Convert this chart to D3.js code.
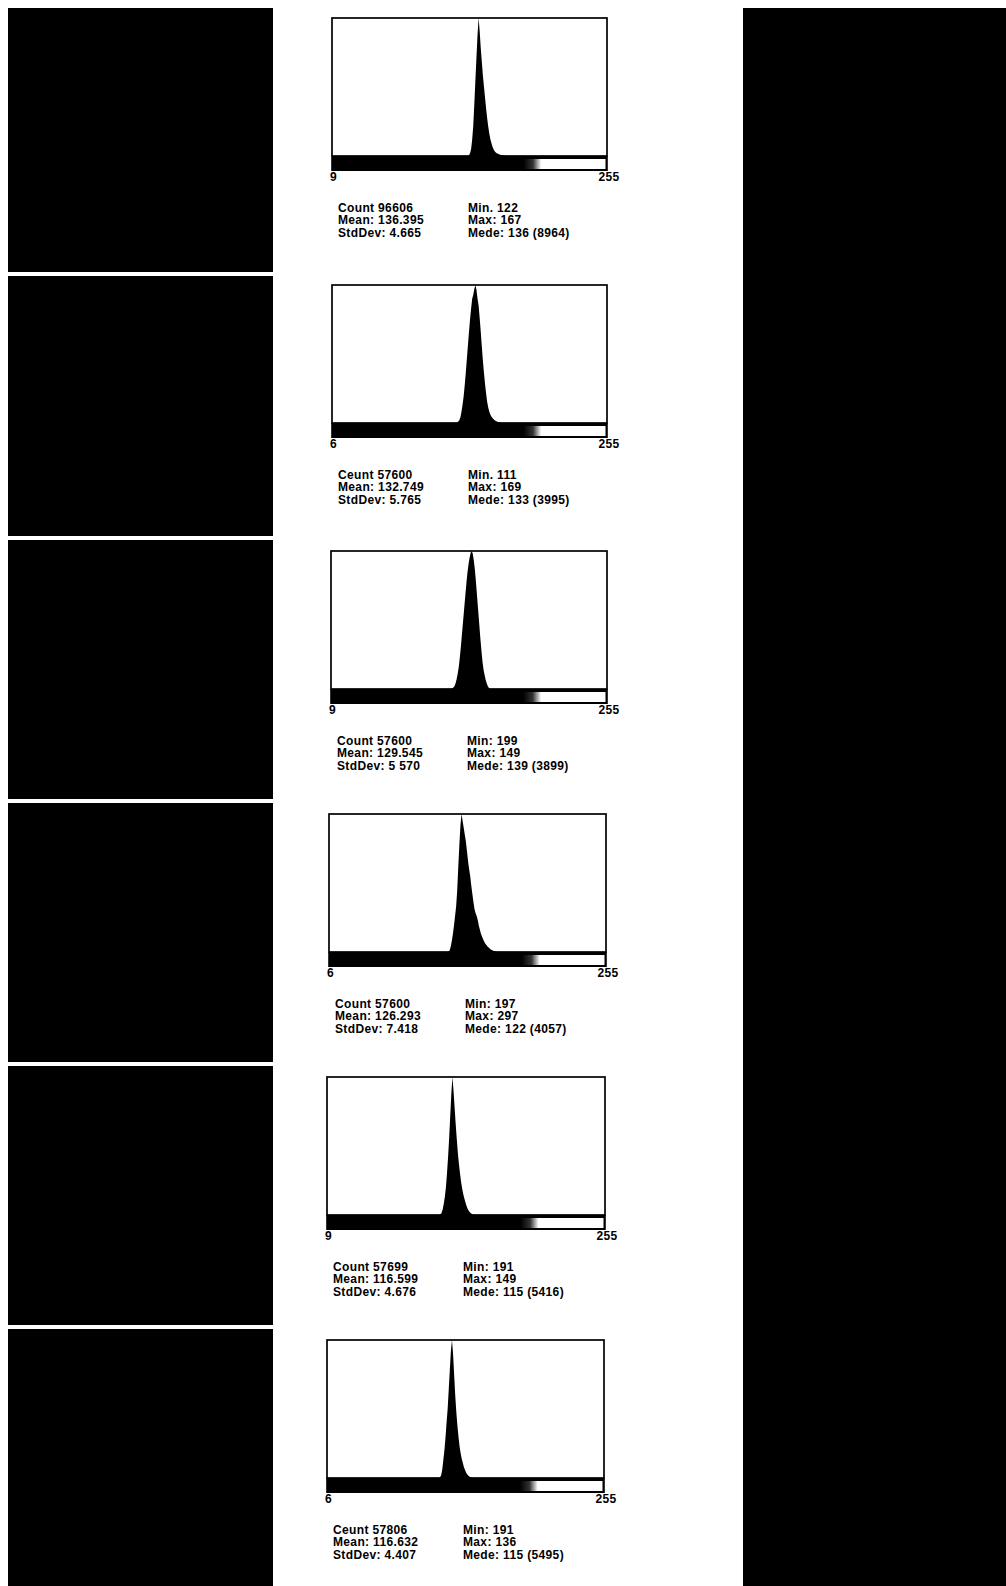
<!DOCTYPE html>
<html>
<head>
<meta charset="utf-8">
<script src="https://cdn.jsdelivr.net/npm/d3@7"></script>
<style>
  html, body { margin: 0; padding: 0; background: #fff; }
  svg { display: block; }
</style>
</head>
<body>
<script>
// ---- Histogram data: grey-level counts per bin (0..255), one list per sample ----
const startBins = [127, 116, 112, 110, 104, 104];

const counts1 = [45, 179, 448, 1076, 1972, 3406, 4930, 6454, 7888, 8964, 8068, 6992, 6096, 5199, 4482,
  3765, 3048, 2420, 1882, 1434, 1076, 807, 583, 430, 314, 233, 179, 143, 108, 81, 63, 45, 36, 27];
const counts2 = [20, 40, 80, 160, 320, 519, 759, 1079, 1438, 1838, 2237, 2637, 2996, 3316, 3596, 3715,
  3880, 3995, 3850, 3600, 3396, 3036, 2637, 2197, 1798, 1438, 1119, 839, 599, 439, 320, 240, 180, 140,
  108, 80, 60, 44, 32, 24, 16];
const counts3 = [19, 39, 78, 156, 273, 429, 624, 897, 1209, 1560, 1911, 2261, 2612, 2963, 3275, 3509,
  3704, 3841, 3899, 3821, 3626, 3353, 3002, 2612, 2222, 1833, 1443, 1092, 780, 546, 390, 253, 156, 78, 31];
const counts4 = [20, 41, 162, 325, 527, 771, 1055, 1339, 1826, 2515, 3164, 3732, 4057, 3854, 3651, 3448,
  3246, 2962, 2678, 2434, 2231, 1947, 1704, 1461, 1258, 1136, 1055, 933, 771, 649, 527, 446, 365, 304,
  243, 203, 162, 130, 101, 77, 57, 41, 28, 20, 12];
const counts5 = [27, 81, 217, 433, 704, 1083, 1625, 2275, 3033, 3900, 4766, 5416, 4874, 4224, 3575, 2979,
  2437, 2004, 1625, 1300, 1029, 812, 650, 487, 352, 244, 162, 108, 65, 38, 22];
const counts6 = [27, 110, 330, 714, 1099, 1594, 2198, 2748, 3517, 4286, 5055, 5495, 4946, 4121, 3297, 2638,
  2088, 1649, 1264, 989, 769, 604, 440, 330, 220, 154, 99, 60, 33, 16];
const allCounts = [counts1, counts2, counts3, counts4, counts5, counts6];

// Peak (mode) counts: top of each plot frame
const modeCounts = [8964, 3995, 3899, 4057, 5416, 5495];

// Axis end labels
const axisMinLabels = ["9", "6", "9", "6", "9", "6"];
const axisMaxLabels = ["255", "255", "255", "255", "255", "255"];

// Statistics text, left and right columns
const countLabels = ["Count 96606", "Ceunt 57600", "Count 57600", "Count 57600", "Count 57699", "Ceunt 57806"];
const meanLabels = ["Mean: 136.395", "Mean: 132.749", "Mean: 129.545", "Mean: 126.293", "Mean: 116.599", "Mean: 116.632"];
const stdLabels = ["StdDev: 4.665", "StdDev: 5.765", "StdDev: 5 570", "StdDev: 7.418", "StdDev: 4.676", "StdDev: 4.407"];
const minLabels = ["Min. 122", "Min. 111", "Min: 199", "Min: 197", "Min: 191", "Min: 191"];
const maxLabels = ["Max: 167", "Max: 169", "Max: 149", "Max: 297", "Max: 149", "Max: 136"];
const modeBinLabels = ["136", "133", "139", "122", "115", "115"];

// ---- Layout ----
const W = 1006, H = 1586;
const frameTops   = [18, 285, 551, 814, 1077, 1340];
const frameLefts  = [332, 332, 331, 329, 327, 327];
const frameRights = [607, 607, 607, 606, 605, 604];
const plotH = 138, bandH = 15;
const thumbTops    = [8, 276, 540, 803, 1066, 1329];
const thumbBottoms = [272, 536, 799, 1062, 1325, 1586];

const svg = d3.select("body").append("svg")
  .attr("width", W).attr("height", H)
  .attr("viewBox", `0 0 ${W} ${H}`);

svg.append("rect").attr("width", W).attr("height", H).attr("fill", "#fff");

// grey ramp shown under each histogram
const defs = svg.append("defs");
const ramp = defs.append("linearGradient").attr("id", "ramp")
  .attr("x1", 0).attr("x2", 1).attr("y1", 0).attr("y2", 0);
[[0, "#000"], [0.70, "#000"], [0.735, "#333"], [0.765, "#fff"], [1, "#fff"]]
  .forEach(([o, c]) => ramp.append("stop").attr("offset", o).attr("stop-color", c));

// image thumbnails on the left, image strip on the right
svg.selectAll("rect.thumb").data(thumbTops).join("rect")
  .attr("class", "thumb")
  .attr("x", 8).attr("width", 265)
  .attr("y", d => d)
  .attr("height", (d, i) => thumbBottoms[i] - d)
  .attr("fill", "#000");
svg.append("rect").attr("x", 743).attr("y", 8).attr("width", W - 743).attr("height", H - 8).attr("fill", "#000");

const font = "'Liberation Sans', Arial, sans-serif";

allCounts.forEach((counts, i) => {
  const top = frameTops[i], left = frameLefts[i], right = frameRights[i];
  const base = top + plotH;
  const g = svg.append("g");

  const x = d3.scaleLinear().domain([0, 256]).range([left, right]);
  const y = d3.scaleLinear().domain([0, modeCounts[i]]).range([base, top]);

  // frame
  g.append("rect")
    .attr("x", left).attr("y", top)
    .attr("width", right - left).attr("height", plotH)
    .attr("fill", "#fff").attr("stroke", "#000").attr("stroke-width", 1.7);

  // histogram silhouette through bin centres
  const pts = counts.map((c, k) => ({ b: startBins[i] + k + 0.5, c }));
  pts.unshift({ b: startBins[i] - 0.5, c: 0 });
  pts.push({ b: startBins[i] + counts.length + 0.5, c: 0 });
  const area = d3.area()
    .x(d => x(d.b))
    .y0(base)
    .y1(d => y(d.c))
    .curve(d3.curveLinear);
  g.append("path").datum(pts).attr("d", area).attr("fill", "#000");

  // grey ramp band below the plot
  g.append("rect")
    .attr("x", x(0) - 0.8).attr("y", base)
    .attr("width", x(256) - x(0) + 1.6).attr("height", bandH)
    .attr("fill", "#000");
  g.append("rect")
    .attr("x", x(0)).attr("y", base + 3)
    .attr("width", x(256) - x(0) - 1.5).attr("height", bandH - 5)
    .attr("fill", "url(#ramp)");

  // axis end labels
  const lblY = base + bandH + 9.5;
  const txt = (sel) => sel.attr("font-family", font).attr("font-weight", "bold")
    .attr("font-size", "12px").attr("letter-spacing", "0.35px").attr("fill", "#000");
  g.append("text").call(txt).attr("x", x(0) + 1.5).attr("y", lblY)
    .attr("text-anchor", "middle").text(axisMinLabels[i]);
  g.append("text").call(txt).attr("x", x(256) + 2).attr("y", lblY)
    .attr("text-anchor", "middle").text(axisMaxLabels[i]);

  // statistics
  const t0 = top + 193.5, dy = 12.5;
  const c1 = left + 6, c2 = left + 136;
  [countLabels[i], meanLabels[i], stdLabels[i]].forEach((s, k) =>
    g.append("text").call(txt).attr("x", c1).attr("y", t0 + k * dy).text(s));
  [minLabels[i], maxLabels[i], `Mede: ${modeBinLabels[i]} (${modeCounts[i]})`].forEach((s, k) =>
    g.append("text").call(txt).attr("x", c2).attr("y", t0 + k * dy).text(s));
});
</script>
</body>
</html>
